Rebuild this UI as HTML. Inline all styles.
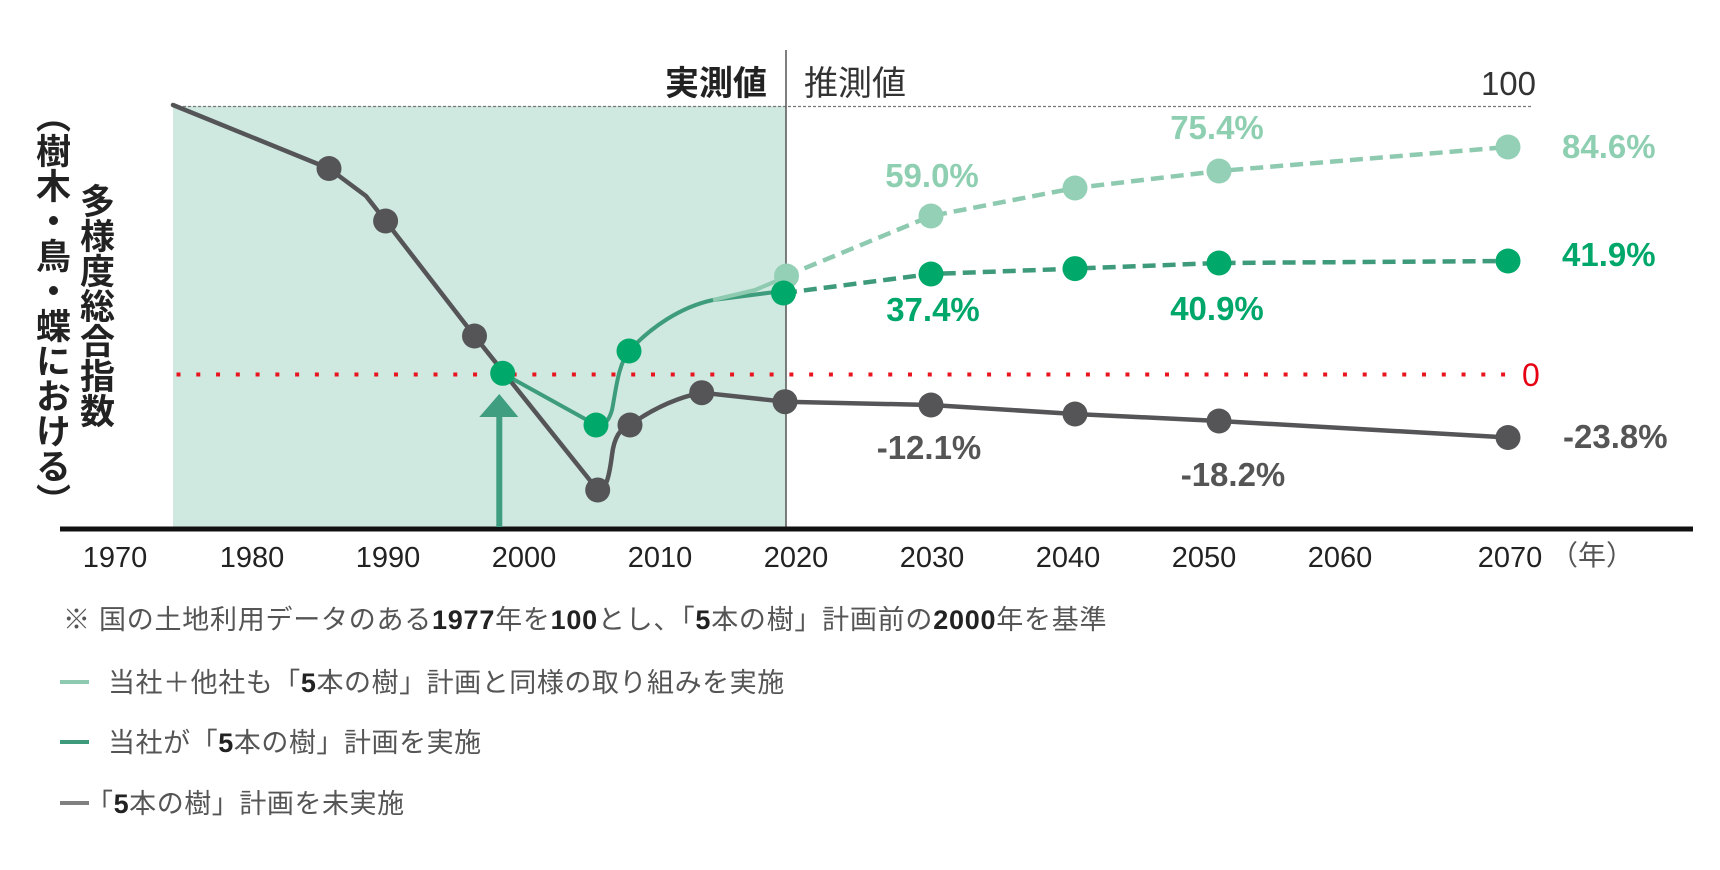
<!DOCTYPE html>
<html><head><meta charset="utf-8">
<style>
html,body{margin:0;padding:0;background:#fff;}
body{width:1720px;height:870px;overflow:hidden;position:relative;font-family:"Liberation Sans","Noto Sans CJK JP",sans-serif;}
svg{position:absolute;left:0;top:0;}
.vt{position:absolute;writing-mode:vertical-rl;font-family:"Liberation Sans","Noto Sans CJK JP",sans-serif;font-weight:bold;font-size:35px;line-height:35px;color:#222;white-space:nowrap;}
</style></head>
<body>
<svg width="1720" height="870" viewBox="0 0 1720 870" xmlns="http://www.w3.org/2000/svg" font-family="Liberation Sans, Noto Sans CJK JP, sans-serif">
  <rect x="173" y="106" width="613" height="421" fill="#cfe8e0"/>
  <line x1="173" y1="106.5" x2="1533" y2="106.5" stroke="#777" stroke-width="1.3" stroke-dasharray="3 2"/>
  <line x1="786" y1="50" x2="786" y2="527" stroke="#555" stroke-width="1.5"/>
  <line x1="176.5" y1="374.5" x2="1506" y2="374.5" stroke="#e8141e" stroke-width="4" stroke-dasharray="4 15.77"/>
  <rect x="60" y="526.5" width="1633" height="5" fill="#111"/>
  <rect x="496.3" y="414" width="6" height="113" fill="#3f9e7f"/>
  <polygon points="499.3,394 479.3,417 518.3,417" fill="#3f9e7f"/>

  <path d="M173,105 L329,168.5 L366,196 L385.6,221 L474.5,336 L597.7,490 C606,490 609,478 612,455 C614,438 620,428 630,425 Q665,400 701.7,392.7 L785,401.7 L931,405 L1075,414 L1219,421 L1508,437.5" fill="none" stroke="#555557" stroke-width="4.5" stroke-linejoin="round" stroke-linecap="round"/>

  <path d="M502.7,373.3 L596,425 C606,425 609,420 612,410 C616,390 618,365 629,351 C650,328 680,307 713,300 L783,291" fill="none" stroke="#3d9c7c" stroke-width="4" stroke-linejoin="round"/>
  <path d="M713,300 L755,290 L786,277" fill="none" stroke="#8ecab0" stroke-width="4" stroke-linejoin="round"/>

  <path d="M786,276 L931,216 L1075,188 L1219,171 L1508,147" fill="none" stroke="#8ecab0" stroke-width="4.5" stroke-dasharray="13 7"/>
  <path d="M784,293 L931,274 L1075,268.6 L1219,263 L1508,261" fill="none" stroke="#3d9a7a" stroke-width="4.5" stroke-dasharray="13 7"/>

  <g fill="#555557">
    <circle cx="329" cy="168.5" r="12.5"/>
    <circle cx="385.6" cy="221" r="12.5"/>
    <circle cx="474.5" cy="336" r="12.5"/>
    <circle cx="597.7" cy="490" r="12.5"/>
    <circle cx="630" cy="425" r="12.5"/>
    <circle cx="701.7" cy="392.7" r="12.5"/>
    <circle cx="785" cy="401.7" r="12.5"/>
    <circle cx="931" cy="405" r="12.5"/>
    <circle cx="1075" cy="414" r="12.5"/>
    <circle cx="1219" cy="421" r="12.5"/>
    <circle cx="1508" cy="437.5" r="12.5"/>
  </g>
  <g fill="#94d0b6">
    <circle cx="786.5" cy="276" r="12.5"/>
    <circle cx="931" cy="216" r="12.5"/>
    <circle cx="1075" cy="188" r="12.5"/>
    <circle cx="1219" cy="171" r="12.5"/>
    <circle cx="1508" cy="147" r="12.5"/>
  </g>
  <g fill="#00a86a">
    <circle cx="502.7" cy="373.3" r="12.5"/>
    <circle cx="596" cy="425" r="12.5"/>
    <circle cx="629" cy="351" r="12.5"/>
    <circle cx="783.5" cy="293" r="12.5"/>
    <circle cx="931" cy="274" r="12.5"/>
    <circle cx="1075" cy="268.6" r="12.5"/>
    <circle cx="1219" cy="263" r="12.5"/>
    <circle cx="1508" cy="261" r="12.5"/>
  </g>

  <text x="767" y="95" font-size="34" font-weight="bold" fill="#222" text-anchor="end">実測値</text>
  <text x="804" y="95" font-size="34" fill="#333">推測値</text>
  <text x="1536" y="95" font-size="33" fill="#333" text-anchor="end">100</text>
  <text x="1522" y="386" font-size="32" fill="#e60012">0</text>

  <g font-size="33" font-weight="bold">
    <text x="932" y="187" fill="#8ecfb1" text-anchor="middle">59.0%</text>
    <text x="1217" y="139" fill="#8ecfb1" text-anchor="middle">75.4%</text>
    <text x="1562" y="158" fill="#8ecfb1">84.6%</text>
    <text x="933" y="321" fill="#00a76a" text-anchor="middle">37.4%</text>
    <text x="1217" y="320" fill="#00a76a" text-anchor="middle">40.9%</text>
    <text x="1562" y="266" fill="#00a76a">41.9%</text>
    <text x="929" y="459" fill="#555" text-anchor="middle">-12.1%</text>
    <text x="1233" y="486" fill="#555" text-anchor="middle">-18.2%</text>
    <text x="1563" y="448" fill="#555">-23.8%</text>
  </g>

  <g font-size="29" fill="#222" text-anchor="middle">
    <text x="115" y="567">1970</text>
    <text x="252" y="567">1980</text>
    <text x="388" y="567">1990</text>
    <text x="524" y="567">2000</text>
    <text x="660" y="567">2010</text>
    <text x="796" y="567">2020</text>
    <text x="932" y="567">2030</text>
    <text x="1068" y="567">2040</text>
    <text x="1204" y="567">2050</text>
    <text x="1340" y="567">2060</text>
    <text x="1510" y="567">2070</text>
  </g>
  <text x="1550" y="565" font-size="28" fill="#555">（年）</text>

  <text x="63" y="629" font-size="27" fill="#555" letter-spacing="0.75">※ 国の土地利用データのある<tspan font-weight="bold" fill="#222">1977</tspan>年を<tspan font-weight="bold" fill="#222">100</tspan>とし、「<tspan font-weight="bold" fill="#222">5</tspan>本の樹」計画前の<tspan font-weight="bold" fill="#222">2000</tspan>年を基準</text>

  <rect x="60" y="680" width="29" height="4" fill="#8ecab0"/>
  <text x="108" y="692" font-size="27" fill="#555" letter-spacing="0.55">当社＋他社も「<tspan font-weight="bold" fill="#222">5</tspan>本の樹」計画と同様の取り組みを実施</text>
  <rect x="60" y="740" width="29" height="4" fill="#3d9a7a"/>
  <text x="108" y="752" font-size="27" fill="#555" letter-spacing="0.55">当社が「<tspan font-weight="bold" fill="#222">5</tspan>本の樹」計画を実施</text>
  <rect x="60" y="801" width="29" height="4" fill="#808080"/>
  <text x="86" y="813" font-size="27" fill="#555" letter-spacing="0.55">「<tspan font-weight="bold" fill="#222">5</tspan>本の樹」計画を未実施</text>
</svg>

<div class="vt" style="left:33px;top:98px;">（樹木・鳥・蝶における）</div>
<div class="vt" style="left:77px;top:183px;">多様度総合指数</div>
</body></html>
